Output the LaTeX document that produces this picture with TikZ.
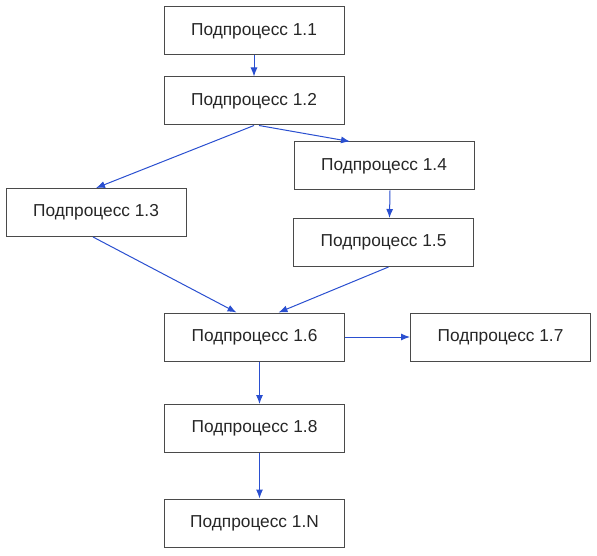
\documentclass[tikz,border=0pt]{standalone}
\usepackage{fontspec}
\setmainfont{Liberation Sans}
\usetikzlibrary{positioning,arrows.meta,calc}
\definecolor{flowblue}{HTML}{2A4FD0}
\definecolor{boxgray}{HTML}{4A4A4A}
\tikzset{
  >={Latex[length=9pt,width=7pt]},
  procbox/.style={draw=boxgray,line width=1pt,minimum width=180pt,
    minimum height=48pt,inner sep=2pt,font=\fontsize{17.3}{20}\selectfont,
    text=black!85},
  flow/.style={->,draw=flowblue,line width=1pt},
}
\begin{document}
\begin{tikzpicture}[x=1pt,y=-1pt]
  \useasboundingbox (0,0) rectangle (597,556);
  \node[procbox] (p11) at (254,31) {Подпроцесс 1.1};
  \node[procbox] (p12) at (254,101) {Подпроцесс 1.2};
  \node[procbox] (p14) at (384,166) {Подпроцесс 1.4};
  \node[procbox] (p13) at (96,212.5) {Подпроцесс 1.3};
  \node[procbox] (p15) at (383.5,242.5) {Подпроцесс 1.5};
  \node[procbox] (p16) at (254.5,337) {Подпроцесс 1.6};
  \node[procbox] (p17) at (500.5,337) {Подпроцесс 1.7};
  \node[procbox] (p18) at (254.5,428.5) {Подпроцесс 1.8};
  \node[procbox] (p1n) at (254.5,523) {Подпроцесс 1.N};
  \draw[flow] (p11)--(p12);
  \draw[flow] (p12.south)--(p13.north);
  \draw[flow] ([xshift=5pt]p12.south)--([xshift=-34pt]p14.north);
  \draw[flow] ([xshift=6pt]p14.south)--([xshift=6pt]p15.north);
  \draw[flow] ([xshift=-3pt]p13.south)--([xshift=-18pt]p16.north);
  \draw[flow] ([xshift=5pt]p15.south)--([xshift=24pt]p16.north);
  \draw[flow] (p16)--(p17);
  \draw[flow] ([xshift=5pt]p16.south)--([xshift=5pt]p18.north);
  \draw[flow] ([xshift=5pt]p18.south)--([xshift=5pt]p1n.north);
\end{tikzpicture}
\end{document}
